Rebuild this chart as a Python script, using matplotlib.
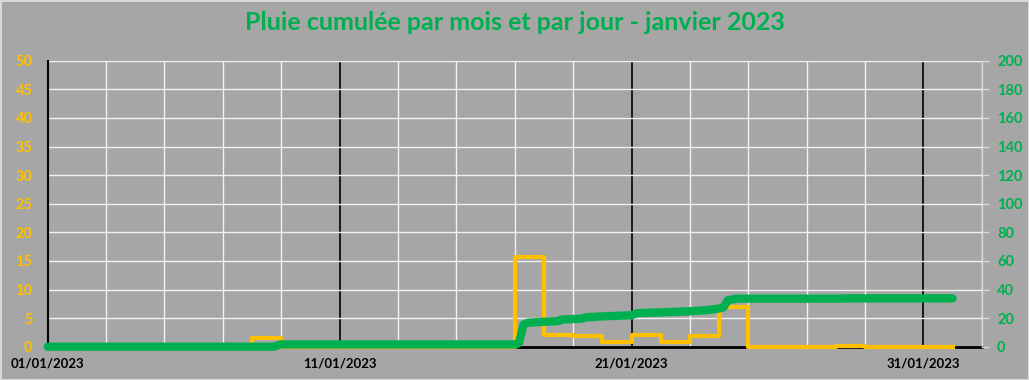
import pandas as pd
import matplotlib
matplotlib.use("Agg")
import matplotlib.pyplot as plt
import matplotlib.dates as mdates
from matplotlib.ticker import FixedLocator, MultipleLocator

plt.rcParams['font.family'] = ['Lato', 'DejaVu Sans']

START = pd.Timestamp('2023-01-01')

# pluie journaliere (mm), du 01/01 au 31/01
DAILY_RAIN = [0, 0, 0, 0, 0, 0, 0, 1.6, 0, 0,
              0, 0, 0, 0, 0, 0, 15.7, 2.0, 1.9, 0.8,
              2.0, 0.8, 1.9, 6.9, 0, 0, 0, 0.2, 0, 0,
              0]

# cumul (mm), en jours depuis le 01/01
CUMUL_DAYS = [0, 7.75, 7.95, 16.05, 16.15, 16.3, 16.45, 17.0, 17.5, 17.6,
              18.3, 18.45, 19.0, 19.5, 20.0, 20.2, 21.0, 22.0, 22.6, 23.0,
              23.15, 23.3, 23.6, 27.0, 27.5, 31.0]
CUMUL_MM = [0, 0, 1.6, 1.6, 3.0, 15.5, 16.8, 17.4, 17.9, 19.0,
            19.6, 20.6, 21.2, 21.6, 22.0, 23.5, 24.0, 24.8, 25.6, 26.7,
            27.5, 32.5, 33.6, 33.6, 33.8, 33.8]

TICK_DATES = ['2023-01-01', '2023-01-11', '2023-01-21', '2023-01-31']
TITLE = "Pluie cumulée par mois et par jour - janvier 2023"

YELLOW = '#FFC000'
GREEN = '#00B050'
BG = '#A6A6A6'

fig = plt.figure(figsize=(10.29, 3.8), dpi=100, facecolor=BG)
fig.patch.set_edgecolor('#D9D9D9')
fig.patch.set_linewidth(2)
ax = fig.add_axes([0.0464, 0.0876, 0.9077, 0.7526])
ax.set_facecolor(BG)

step_x = list(pd.date_range('2023-01-01', periods=len(DAILY_RAIN) + 1, freq='D'))
step_y = DAILY_RAIN + [DAILY_RAIN[-1]]
ax.step(step_x, step_y, where='post', color=YELLOW, lw=3, clip_on=False, zorder=3)

ax2 = ax.twinx()
cum_x = START + pd.to_timedelta(CUMUL_DAYS, unit='D')
ax2.plot(cum_x, CUMUL_MM, color=GREEN, lw=6, solid_capstyle='round',
         solid_joinstyle='round', clip_on=False, zorder=4)

ax.set_xlim(START, START + pd.Timedelta(days=32))
ax.set_ylim(0, 50)
ax2.set_ylim(0, 200)
ax.yaxis.set_major_locator(MultipleLocator(5))
ax2.yaxis.set_major_locator(MultipleLocator(20))

ax.xaxis.set_major_locator(FixedLocator(mdates.date2num(pd.to_datetime(TICK_DATES))))
ax.xaxis.set_major_formatter(mdates.DateFormatter('%d/%m/%Y'))
ax.xaxis.set_minor_locator(mdates.DayLocator(interval=2))

ax.grid(axis='y', color='#F2F2F2', lw=1)
ax.grid(axis='x', which='minor', color='#F2F2F2', lw=1)
ax.grid(axis='x', which='major', color='black', lw=1.2)
ax.set_axisbelow(True)

ax.tick_params(axis='x', which='both', length=0, pad=8, labelsize=9.5)
ax.tick_params(axis='y', length=0, pad=11, labelsize=10.5, labelcolor=YELLOW)
ax2.tick_params(axis='y', length=5, width=1, color='#D9D9D9', pad=6,
                labelsize=10.5, labelcolor=GREEN)
for lab in ax.get_xticklabels() + ax.get_yticklabels() + ax2.get_yticklabels():
    lab.set_fontweight('bold')

for a in (ax, ax2):
    a.spines['top'].set_visible(False)
ax.spines['right'].set_visible(False)
ax2.spines['left'].set_visible(False)
ax2.spines['bottom'].set_visible(False)
ax2.spines['right'].set_color('#D9D9D9')
ax2.spines['right'].set_linewidth(1)
ax.spines['left'].set_color('black')
ax.spines['left'].set_linewidth(1.5)
ax.spines['bottom'].set_color('black')
ax.spines['bottom'].set_linewidth(2)

fig.text(0.5, 1 - 23 / 380, TITLE, ha='center', va='center', color=GREEN,
         fontsize=18, fontweight='bold')

fig.savefig('out.png', dpi=100, facecolor=BG, edgecolor='#D9D9D9')
